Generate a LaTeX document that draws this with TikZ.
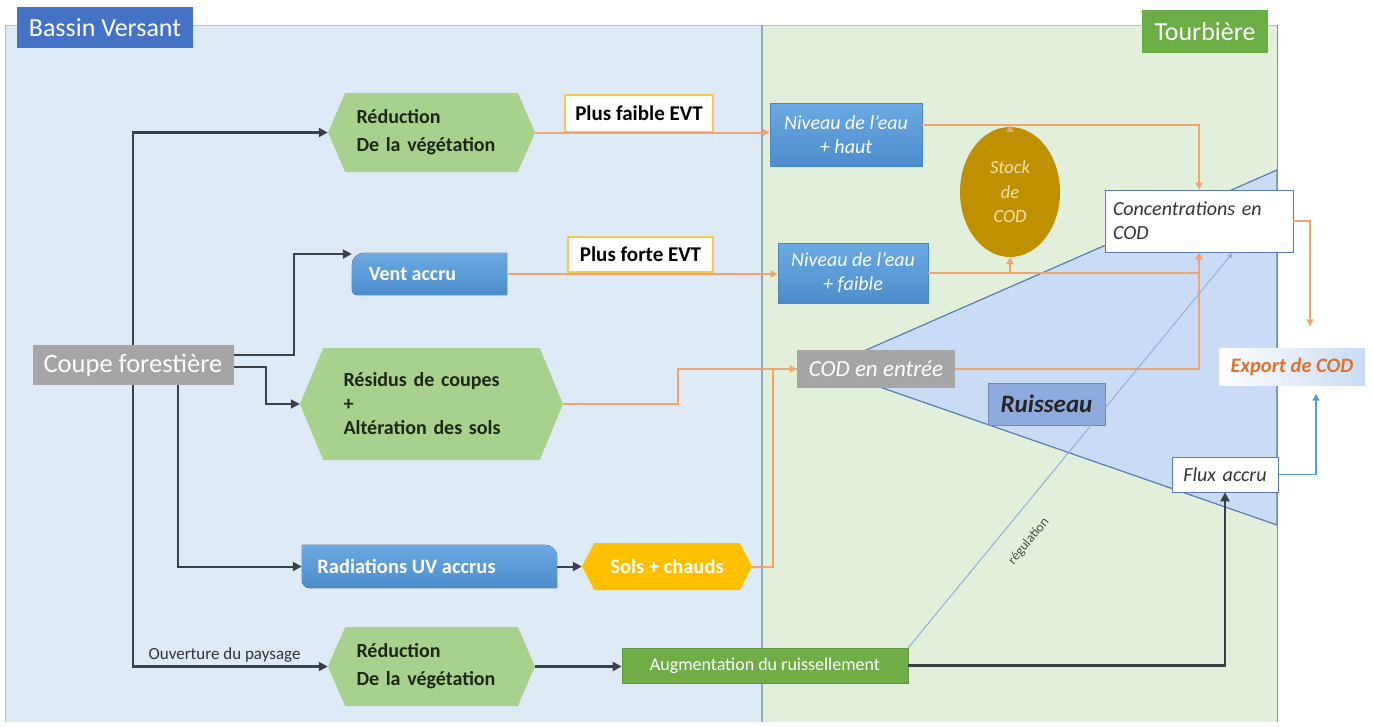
\documentclass[tikz,border=0pt]{standalone}
\usepackage{fontspec}
\setmainfont{Carlito}
\usetikzlibrary{shapes.symbols,shapes.geometric,arrows.meta,calc}
\definecolor{bvfill}{HTML}{DEEAF6}
\definecolor{tbfill}{HTML}{E2EFDA}
\definecolor{bvblue}{HTML}{4472C4}
\definecolor{tbgreen}{HTML}{6AAE45}
\definecolor{hexgreen}{HTML}{A9D18E}
\definecolor{boxblue}{HTML}{5B9BD5}
\definecolor{boxblueT}{HTML}{6BAAE2}
\definecolor{boxblueB}{HTML}{4C8CCB}
\definecolor{boxblueD}{HTML}{4A86C0}
\definecolor{gold}{HTML}{BF9000}
\definecolor{goldtext}{HTML}{F5E2A6}
\definecolor{yel}{HTML}{FFC000}
\definecolor{grayb}{HTML}{A5A5A5}
\definecolor{orl}{HTML}{F0A56E}
\definecolor{evtborder}{HTML}{F7C653}
\definecolor{rivfill}{HTML}{C9DBF5}
\definecolor{rivline}{HTML}{5A7DB5}
\definecolor{ruis}{HTML}{8FAADC}
\definecolor{blkline}{HTML}{3A4048}
\definecolor{augreen}{HTML}{70AD47}
\definecolor{darktxt}{HTML}{1E2616}
\definecolor{sepline}{HTML}{8EA8C6}
\definecolor{regline}{HTML}{8FB0D8}
\definecolor{exporttxt}{HTML}{E0702A}
\begin{document}
\begin{tikzpicture}[x=1pt,y=-1pt,
  hex/.style={signal, signal to=west and east, fill=hexgreen, draw=none, inner sep=0pt,
    text=darktxt, font=\fontsize{20}{28}\selectfont\bfseries, align=left},
  bluebox/.style={top color=boxblueT, bottom color=boxblueB, draw=boxblueD, line width=0.8pt, text=white, inner sep=0pt},
  evtbox/.style={fill=white, draw=evtborder, line width=1.6pt, font=\fontsize{21}{24}\selectfont\bfseries, inner sep=0pt},
  graybox/.style={fill=grayb, draw=none, text=white, inner sep=0pt},
  whitebox/.style={fill=white, draw=rivline, line width=0.8pt, inner sep=0pt, text=black!80, font=\fontsize{20}{24}\selectfont\itshape},
  blkarrow/.style={draw=blkline, line width=2.4pt, -{Triangle[length=9pt,width=9pt]}},
  orarrow/.style={draw=orl, line width=2pt, -{Triangle[length=7pt,width=7pt]}},
  orline/.style={draw=orl, line width=2pt},
  bluearrow/.style={draw=boxblue, line width=1.6pt, -{Triangle[length=7pt,width=7pt]}},
  reg/.style={draw=regline, line width=1pt, -{Latex[length=6pt,width=5pt]}}
]
\useasboundingbox (0,0) rectangle (1373,726);
\fill[white] (0,0) rectangle (1373,726);
% panels
\fill[bvfill] (5,25) rectangle (762,722);
\fill[tbfill] (762,25) rectangle (1277,722);
\draw[sepline!70, line width=1pt] (5,722) -- (5,25) -- (1277,25);
\draw[sepline, line width=1.8pt] (762,25) -- (762,722);
% river
\filldraw[fill=rivfill, draw=rivline, line width=1.2pt] (825,368) -- (1277,170) -- (1277,525) -- cycle;
\draw[regline!80!blue, line width=1pt] (1277,25) -- (1277,722);

% titles
\node[fill=bvblue, text=white, minimum width=176pt, minimum height=41pt, inner sep=0pt,
  font=\fontsize{26}{28}\selectfont] (bv) at (105,27.5) {Bassin Versant};
\node[fill=tbgreen, text=white, minimum width=126pt, minimum height=43pt, inner sep=0pt,
  font=\fontsize{26}{28}\selectfont] (tb) at (1205,31.5) {Tourbière};

% Ruisseau label
\node[fill=ruis, draw=ruis!80!black, line width=0.6pt, minimum width=117pt, minimum height=42pt, inner sep=0pt,
  text=black!85, font=\fontsize{25}{28}\selectfont\bfseries\itshape] (ruis) at (1046.5,404) {Ruisseau};

% nodes
\node[graybox, minimum width=201pt, minimum height=40pt, font=\fontsize{26.5}{28}\selectfont] (coupe) at (133,365) {Coupe forestière};

\node[hex, minimum width=207pt, minimum height=79pt, signal pointer angle=133, text width=150pt] (r1) at (431.5,132.5) {Réduction\\De la végétation};
\node[evtbox, minimum width=148pt, minimum height=37pt] (pfe) at (639,113.5) {Plus faible EVT};
\node[bluebox, minimum width=152pt, minimum height=63pt, align=center, font=\fontsize{20}{24}\selectfont\itshape] (nh) at (846,134.5) {Niveau de l'eau\\+ haut};

\node[ellipse, fill=gold, minimum width=100pt, minimum height=130pt, inner sep=0pt, align=center,
  text=goldtext, font=\fontsize{18.5}{24.5}\selectfont\itshape] (stock) at (1010,192) {Stock\\de\\COD};

\node[draw=none, minimum width=155pt, minimum height=42pt, inner sep=0pt] (va) at (429.5,274) {};
\fill[top color=boxblueT, bottom color=boxblueB] (va.south east) -- (va.north east) [rounded corners=12pt] -- (va.north west) [rounded corners=5pt] -- (va.south west) [sharp corners] -- cycle;
\node[text=white, font=\fontsize{20}{24}\selectfont\bfseries] at ([xshift=-17pt]va.center) {Vent accru};

\node[evtbox, minimum width=145pt, minimum height=35pt] (pfo) at (640.5,254.5) {Plus forte EVT};
\node[bluebox, minimum width=150pt, minimum height=60pt, align=center, font=\fontsize{20}{24}\selectfont\itshape] (nf) at (853,273) {Niveau de l'eau\\+ faible};

\node[whitebox, minimum width=188pt, minimum height=62pt, text width=172pt, align=left] (conc) at (1199,221) {Concentrations en\\COD};

\node[minimum width=145pt, minimum height=37pt, inner sep=0pt, left color=white, right color=rivfill,
  text=exporttxt, font=\fontsize{20.5}{24}\selectfont\bfseries\itshape] (export) at (1292,367) {Export de COD};

\node[whitebox, minimum width=106pt, minimum height=35pt, text width=100pt, align=center] (flux) at (1225,474.5) {Flux accru};

\node[hex, minimum width=263pt, minimum height=112pt, signal pointer angle=135, text width=176pt,
  font=\fontsize{20}{24}\selectfont\bfseries] (res) at (431.5,404) {Résidus de coupes\\+\\Altération des sols};

\node[graybox, minimum width=158pt, minimum height=38pt, font=\fontsize{23}{26}\selectfont\itshape] (cod) at (876,369) {COD en entrée};

\node[draw=none, minimum width=255pt, minimum height=43pt, inner sep=0pt] (uv) at (429.5,566.5) {};
\fill[top color=boxblueT, bottom color=boxblueB] (uv.north west) [rounded corners=12pt] -- (uv.north east) [sharp corners] -- (uv.south east) [rounded corners=8pt] -- (uv.south west) [sharp corners] -- cycle;
\node[text=white, font=\fontsize{20.5}{24}\selectfont\bfseries] at ([xshift=-23pt]uv.center) {Radiations UV accrus};

\node[signal, signal to=west and east, fill=yel, draw=none, inner sep=0pt, signal pointer angle=125,
  minimum width=170pt, minimum height=47pt, text=white, font=\fontsize{20.5}{24}\selectfont\bfseries] (sols) at (667,566.5) {Sols + chauds};

\node[hex, minimum width=207pt, minimum height=79pt, signal pointer angle=133, text width=150pt] (r2) at (431.5,666.5) {Réduction\\De la végétation};

\node[fill=augreen, draw=augreen!85!black, line width=0.6pt, minimum width=286pt, minimum height=35pt, inner sep=0pt,
  text=white, font=\fontsize{18}{20}\selectfont] (aug) at (765,665.5) {Augmentation du ruissellement};

% black connectors
\draw[blkarrow] (coupe.north) |- (r1.west);
\draw[blkarrow] (coupe.south) |- node[pos=0.735, above=0pt, text=black!80, font=\fontsize{17}{18}\selectfont] {Ouverture du paysage} (r2.west);
\draw[blkarrow, line width=2pt] ([yshift=10pt]coupe.east) -- ++(60,0) |- ([yshift=20pt]va.west);
\draw[blkarrow, line width=2pt] ([yshift=-2pt]coupe.east) -- ++(32,0) |- (res.west);
\draw[blkarrow, line width=2pt] ([xshift=45pt]coupe.south) |- (uv.west);
\draw[blkarrow, line width=2pt] (uv.east) -- (sols.west);
\draw[blkarrow] (r2.east) -- (aug.west |- r2.east);
\draw[blkarrow] (aug.east) -| (flux.south);

% orange connectors
\draw[orarrow] (r1.east) -- (nh.west |- r1.east);
\draw[orarrow] (va.east) -- (nf.west |- va.east);
\draw[orarrow] ([yshift=9.5pt]nh.east) -| (conc.north);
\draw[orarrow] (stock.north) -- ++(0,-2);
\draw[orarrow] (nf.east) -| (conc.south);
\draw[orarrow] (stock.south |- nf.east) -- (stock.south);
\draw[orline] (sols.east) -- ++(21,0) |- (cod.west);
\draw[orarrow] (res.east) -- ++(115,0) |- (cod.west);
\draw[orarrow] (cod.east) -| (conc.south);
\draw[orarrow] (conc.east) -| ([xshift=18pt,yshift=22pt]export.north);

% blue connectors
\draw[bluearrow] (flux.east) -| ([xshift=24pt,yshift=-8pt]export.south);
\draw[reg] (aug.north east) -- node[pos=0.31, sloped, below=16pt, text=black!70, font=\fontsize{13.5}{15}\selectfont] {régulation} ([xshift=34pt]conc.south);
\end{tikzpicture}
\end{document}
